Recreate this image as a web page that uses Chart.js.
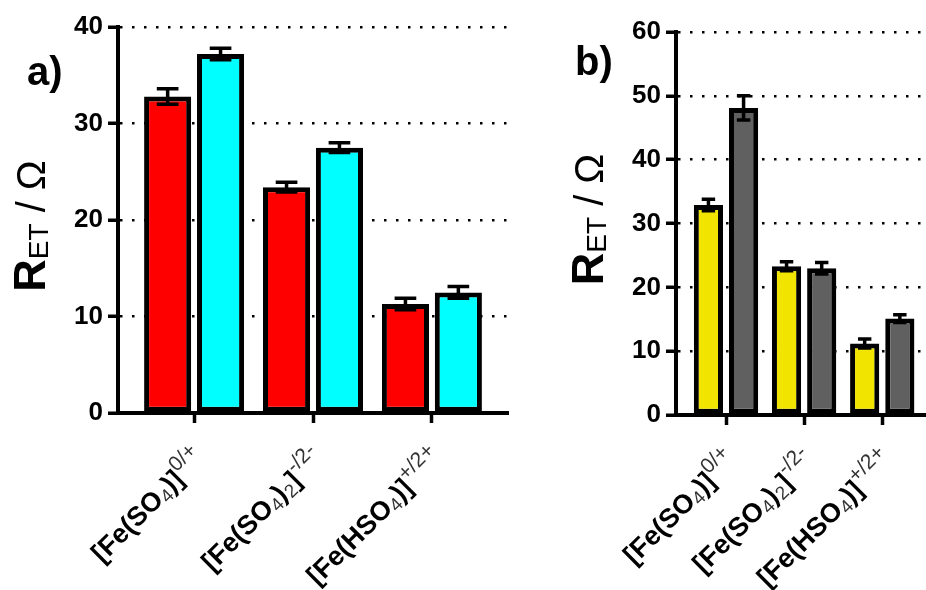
<!DOCTYPE html>
<html>
<head>
<meta charset="utf-8">
<script src="https://cdn.jsdelivr.net/npm/chart.js@4.4.0/dist/chart.umd.min.js"></script>
<style>
html, body { margin: 0; padding: 0; background: #fff; }
#wrap { position: relative; width: 926px; height: 590px; overflow: hidden; }
#chartA { position: absolute; left: 0; top: 0; }
#chartB { position: absolute; left: 520px; top: 0; }
</style>
</head>
<body>
<div id="wrap">
  <canvas id="chartA" width="520" height="590"></canvas>
  <canvas id="chartB" width="406" height="590"></canvas>
</div>
<script>
// categories, _{} = subscript, ^{} = superscript
const categories = ['[Fe(SO_{4})]^{0/+}', '[Fe(SO_{4})_{2}]^{-/2-}', '[Fe(HSO_{4})]^{+/2+}'];

// panel a
const redA = [32.8, 23.4, 11.3];
const redErrA = [0.8, 0.5, 0.6];
const cyanA = [37.2, 27.5, 12.5];
const cyanErrA = [0.6, 0.5, 0.6];
const yTicksA = [0, 40, 10]; // min, max, step

// panel b
const yellowB = [32.9, 23.3, 11.2];
const yellowErrB = [0.9, 0.7, 0.7];
const grayB = [48.1, 23.0, 15.1];
const grayErrB = [1.9, 0.9, 0.6];
const yTicksB = [0, 60, 10];

const FONT = '"Liberation Sans", Arial, Helvetica, sans-serif';

function parseLabel(s) {
  const parts = [];
  const re = /([_^])\{([^}]*)\}|([^_^]+)/g;
  let m;
  while ((m = re.exec(s))) {
    if (m[3]) parts.push({ t: m[3], k: 'n' });
    else parts.push({ t: m[2], k: m[1] === '_' ? 'sub' : 'sup' });
  }
  return parts;
}

const errorBars = {
  id: 'errorBars',
  afterDatasetsDraw(chart, args, opts) {
    const ctx = chart.ctx, ys = chart.scales.y;
    ctx.save();
    ctx.strokeStyle = '#000';
    ctx.lineWidth = 3.5;
    chart.data.datasets.forEach((ds, i) => {
      const meta = chart.getDatasetMeta(i);
      meta.data.forEach((bar, j) => {
        const v = ds.data[j].y, e = opts.errors[i][j];
        const top = ys.getPixelForValue(v + e), bot = ys.getPixelForValue(v - e);
        const half = bar.width * 0.23;
        ctx.beginPath();
        ctx.moveTo(bar.x, top); ctx.lineTo(bar.x, bot);
        ctx.moveTo(bar.x - half, top); ctx.lineTo(bar.x + half, top);
        ctx.moveTo(bar.x - half, bot); ctx.lineTo(bar.x + half, bot);
        ctx.stroke();
      });
    });
    ctx.restore();
  }
};

function segFont(k) {
  if (k === 'n') return 'bold 27px ' + FONT;
  if (k === 'sub') return '19px ' + FONT;
  return '21px ' + FONT;
}
function segDy(k) {
  return k === 'sub' ? 4 : (k === 'sup' ? -12 : 0);
}

// rotated category labels with sub/superscripts
const xLabels = {
  id: 'xLabels',
  afterDraw(chart) {
    const ctx = chart.ctx, xs = chart.scales.x, y0 = chart.chartArea.bottom;
    ctx.save();
    ctx.textBaseline = 'alphabetic';
    ctx.textAlign = 'left';
    xs.ticks.forEach(t => {
      const parts = parseLabel(categories[t.value]);
      let w = 0;
      parts.forEach(p => { ctx.font = segFont(p.k); p.w = ctx.measureText(p.t).width; w += p.w; });
      ctx.save();
      ctx.translate(xs.getPixelForValue(t.value) + 12, y0 + 47);
      ctx.rotate(-Math.PI / 4);
      let x = -w;
      parts.forEach(p => {
        ctx.font = segFont(p.k);
        ctx.fillStyle = p.k === 'n' ? '#000' : '#333';
        ctx.fillText(p.t, x, segDy(p.k));
        x += p.w;
      });
      ctx.restore();
    });
    ctx.restore();
  }
};

// y title R_ET / Ω and panel letter
const panelText = {
  id: 'panelText',
  afterDraw(chart, args, opts) {
    const ctx = chart.ctx, area = chart.chartArea;
    ctx.save();
    ctx.fillStyle = '#000';
    ctx.textBaseline = 'alphabetic';
    ctx.textAlign = 'left';
    ctx.font = 'bold 40px ' + FONT;
    ctx.fillText(opts.letter, opts.letterX, opts.letterY);

    const segs = [
      { t: 'R', f: 'bold 45px ' + FONT, dy: 0 },
      { t: 'ET', f: '28px ' + FONT, dy: 3 },
      { t: ' / \u03A9', f: '40px ' + FONT, dy: 0 }
    ];
    let w = 0;
    segs.forEach(s => { ctx.font = s.f; s.w = ctx.measureText(s.t).width; w += s.w; });
    ctx.translate(area.left - 73, (area.top + area.bottom) / 2 + opts.titleShift);
    ctx.rotate(-Math.PI / 2);
    let x = -w / 2;
    segs.forEach(s => { ctx.font = s.f; ctx.fillText(s.t, x, s.dy); x += s.w; });
    ctx.restore();
  }
};

function makePanel(id, cfg) {
  return new Chart(document.getElementById(id), {
    type: 'bar',
    data: {
      datasets: cfg.series.map(s => ({
        data: s.values.map((v, i) => ({ x: i, y: v })),
        backgroundColor: s.color,
        borderColor: '#000',
        borderWidth: 5,
        borderSkipped: false,
        categoryPercentage: cfg.catPct,
        barPercentage: cfg.barPct
      }))
    },
    options: {
      responsive: false,
      animation: false,
      layout: { padding: { top: cfg.top, right: cfg.right, left: 0, bottom: 0 } },
      plugins: {
        legend: { display: false },
        tooltip: { enabled: false },
        errorBars: { errors: cfg.series.map(s => s.errors) },
        panelText: { letter: cfg.letter, letterX: cfg.letterX, letterY: cfg.letterY, titleShift: cfg.titleShift }
      },
      scales: {
        x: {
          type: 'linear',
          min: cfg.xMin, max: cfg.xMax,
          offset: false,
          ticks: { stepSize: 1, includeBounds: false, display: false },
          grid: { offset: false, drawOnChartArea: false, tickLength: 10, tickWidth: 3.5, tickColor: '#000', color: '#000' },
          border: { color: '#000', width: 4 },
          afterFit(s) { s.height = cfg.xHeight; }
        },
        y: {
          min: cfg.yTicks[0], max: cfg.yTicks[1],
          ticks: { stepSize: cfg.yTicks[2], color: '#000', padding: 5,
                   font: { family: FONT, size: 26, weight: 'bold' } },
          grid: { color: '#000', lineWidth: 2.5, tickLength: 10, tickWidth: 3.5, tickColor: '#000' },
          border: { color: '#000', width: 4, dash: [2.5, 9.5] },
          afterFit(s) { s.width = cfg.yWidth; }
        }
      }
    },
    plugins: [errorBars, xLabels, panelText]
  });
}

makePanel('chartA', {
  series: [
    { values: redA, errors: redErrA, color: '#ff0000' },
    { values: cyanA, errors: cyanErrA, color: '#00ffff' }
  ],
  yTicks: yTicksA,
  xMin: -0.64, xMax: 2.64,
  catPct: 0.89, barPct: 0.89,
  top: 27, right: 12, xHeight: 177, yWidth: 118,
  letter: 'a)', letterX: 27, letterY: 85, titleShift: 6
});

makePanel('chartB', {
  series: [
    { values: yellowB, errors: yellowErrB, color: '#f0e400' },
    { values: grayB, errors: grayErrB, color: '#606060' }
  ],
  yTicks: yTicksB,
  xMin: -0.64, xMax: 2.56,
  catPct: 0.9, barPct: 0.83,
  top: 32, right: 0, xHeight: 175, yWidth: 156,
  letter: 'b)', letterX: 55, letterY: 75, titleShift: -4
});
</script>
</body>
</html>
